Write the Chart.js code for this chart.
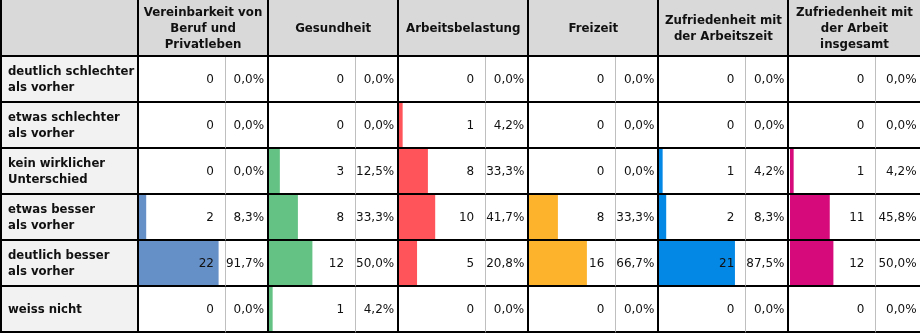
<!DOCTYPE html>
<html>
<head>
<meta charset="utf-8">
<script src="https://cdn.jsdelivr.net/npm/chart.js@4.4.1/dist/chart.umd.min.js"></script>
<style>
  html, body { margin: 0; padding: 0; background: #fff; }
  body { width: 921px; height: 333px; overflow: hidden; position: relative; font-family: "DejaVu Sans", sans-serif; color: #111; }
  #grid { position: absolute; left: 0; top: 0; display: grid; z-index: 1; }
  #grid div { box-sizing: border-box; }
  .head { background: #d9d9d9; font-weight: bold; font-size: 11.8px; line-height: 16px; text-align: center; display: flex; align-items: center; justify-content: center; white-space: pre-line; border-right: 2px solid #000; border-bottom: 2px solid #000; }
  .corner { border-left: 2px solid #000; }
  .label { background: #f2f2f2; font-weight: bold; font-size: 11.7px; line-height: 16px; display: flex; align-items: center; padding-left: 6px; white-space: pre-line; border-left: 2px solid #000; border-right: 2px solid #000; border-bottom: 2px solid #000; }
  .count { font-size: 12px; display: flex; align-items: center; justify-content: flex-end; padding-right: 11px; border-right: 1px solid #bfbfbf; border-bottom: 2px solid #000; }
  .pct { font-size: 12px; display: flex; align-items: center; justify-content: flex-end; padding-right: 3px; border-right: 2px solid #000; border-bottom: 2px solid #000; }
  #grid .last { border-right: none; }
  .barbox { position: absolute; z-index: 0; }
</style>
</head>
<body>
<div id="grid"></div>
<script>
// rows of the table
var rowLabels = [
  "deutlich schlechter\nals vorher",
  "etwas schlechter\nals vorher",
  "kein wirklicher\nUnterschied",
  "etwas besser\nals vorher",
  "deutlich besser\nals vorher",
  "weiss nicht"
];

// column groups
var groupLabels = [
  "Vereinbarkeit von\nBeruf und\nPrivatleben",
  "Gesundheit",
  "Arbeitsbelastung",
  "Freizeit",
  "Zufriedenheit mit\nder Arbeitszeit",
  "Zufriedenheit mit\nder Arbeit\ninsgesamt"
];

var vereinbarkeitCounts = [0, 0, 0, 2, 22, 0];
var vereinbarkeitPct = [0, 0, 0, 8.3, 91.7, 0];
var gesundheitCounts = [0, 0, 3, 8, 12, 1];
var gesundheitPct = [0, 0, 12.5, 33.3, 50.0, 4.2];
var belastungCounts = [0, 1, 8, 10, 5, 0];
var belastungPct = [0, 4.2, 33.3, 41.7, 20.8, 0];
var freizeitCounts = [0, 0, 0, 8, 16, 0];
var freizeitPct = [0, 0, 0, 33.3, 66.7, 0];
var arbeitszeitCounts = [0, 0, 1, 2, 21, 0];
var arbeitszeitPct = [0, 0, 4.2, 8.3, 87.5, 0];
var insgesamtCounts = [0, 0, 1, 11, 12, 0];
var insgesamtPct = [0, 0, 4.2, 45.8, 50.0, 0];

var counts = [vereinbarkeitCounts, gesundheitCounts, belastungCounts, freizeitCounts, arbeitszeitCounts, insgesamtCounts];
var percents = [vereinbarkeitPct, gesundheitPct, belastungPct, freizeitPct, arbeitszeitPct, insgesamtPct];
var barColors = ["#658fc7", "#64c285", "#ff545a", "#feb32c", "#0488e6", "#d60a7a"];

// layout
var LABEL_W = 139;
var COUNT_W = 87;
var PCT_W = 43.1;
var HEAD_H = 57;
var ROW_H = 46;
var FULL_BAR = 86.8; // px for 100 %

var grid = document.getElementById("grid");
var cols = LABEL_W + "px";
for (var g = 0; g < groupLabels.length; g++) cols += " " + COUNT_W + "px " + PCT_W + "px";
grid.style.gridTemplateColumns = cols;
grid.style.gridTemplateRows = HEAD_H + "px repeat(" + rowLabels.length + ", " + ROW_H + "px)";

function cell(cls, text, span) {
  var d = document.createElement("div");
  d.className = cls;
  d.textContent = text;
  if (span) d.style.gridColumn = "span " + span;
  grid.appendChild(d);
  return d;
}

function fmtPct(v) {
  return v.toFixed(1).replace(".", ",") + "%";
}

var lastG = groupLabels.length - 1;

// header row
cell("head corner", "");
groupLabels.forEach(function (l, g) { cell(g == lastG ? "head last" : "head", l, 2); });

// body rows
rowLabels.forEach(function (r, i) {
  cell("label", r);
  for (var g = 0; g < groupLabels.length; g++) {
    cell("count", String(counts[g][i]));
    cell(g == lastG ? "pct last" : "pct", fmtPct(percents[g][i]));
  }
});

// one horizontal bar chart under each count column
percents.forEach(function (pct, g) {
  var box = document.createElement("div");
  box.className = "barbox";
  box.style.left = (LABEL_W + g * (COUNT_W + PCT_W)) + "px";
  box.style.top = (HEAD_H - 1) + "px";
  var cv = document.createElement("canvas");
  cv.width = COUNT_W;
  cv.height = ROW_H * rowLabels.length;
  box.appendChild(cv);
  document.body.appendChild(box);

  new Chart(cv, {
    type: "bar",
    data: {
      labels: rowLabels,
      datasets: [{
        data: pct,
        backgroundColor: barColors[g],
        borderWidth: 0,
        barPercentage: 1,
        categoryPercentage: (ROW_H - 2) / ROW_H
      }]
    },
    options: {
      indexAxis: "y",
      responsive: false,
      animation: false,
      events: [],
      layout: { padding: 0 },
      plugins: { legend: { display: false }, tooltip: { enabled: false } },
      scales: {
        x: { display: false, min: 0, max: 100 * COUNT_W / FULL_BAR },
        y: { display: false, offset: true }
      }
    }
  });
});
</script>
</body>
</html>
